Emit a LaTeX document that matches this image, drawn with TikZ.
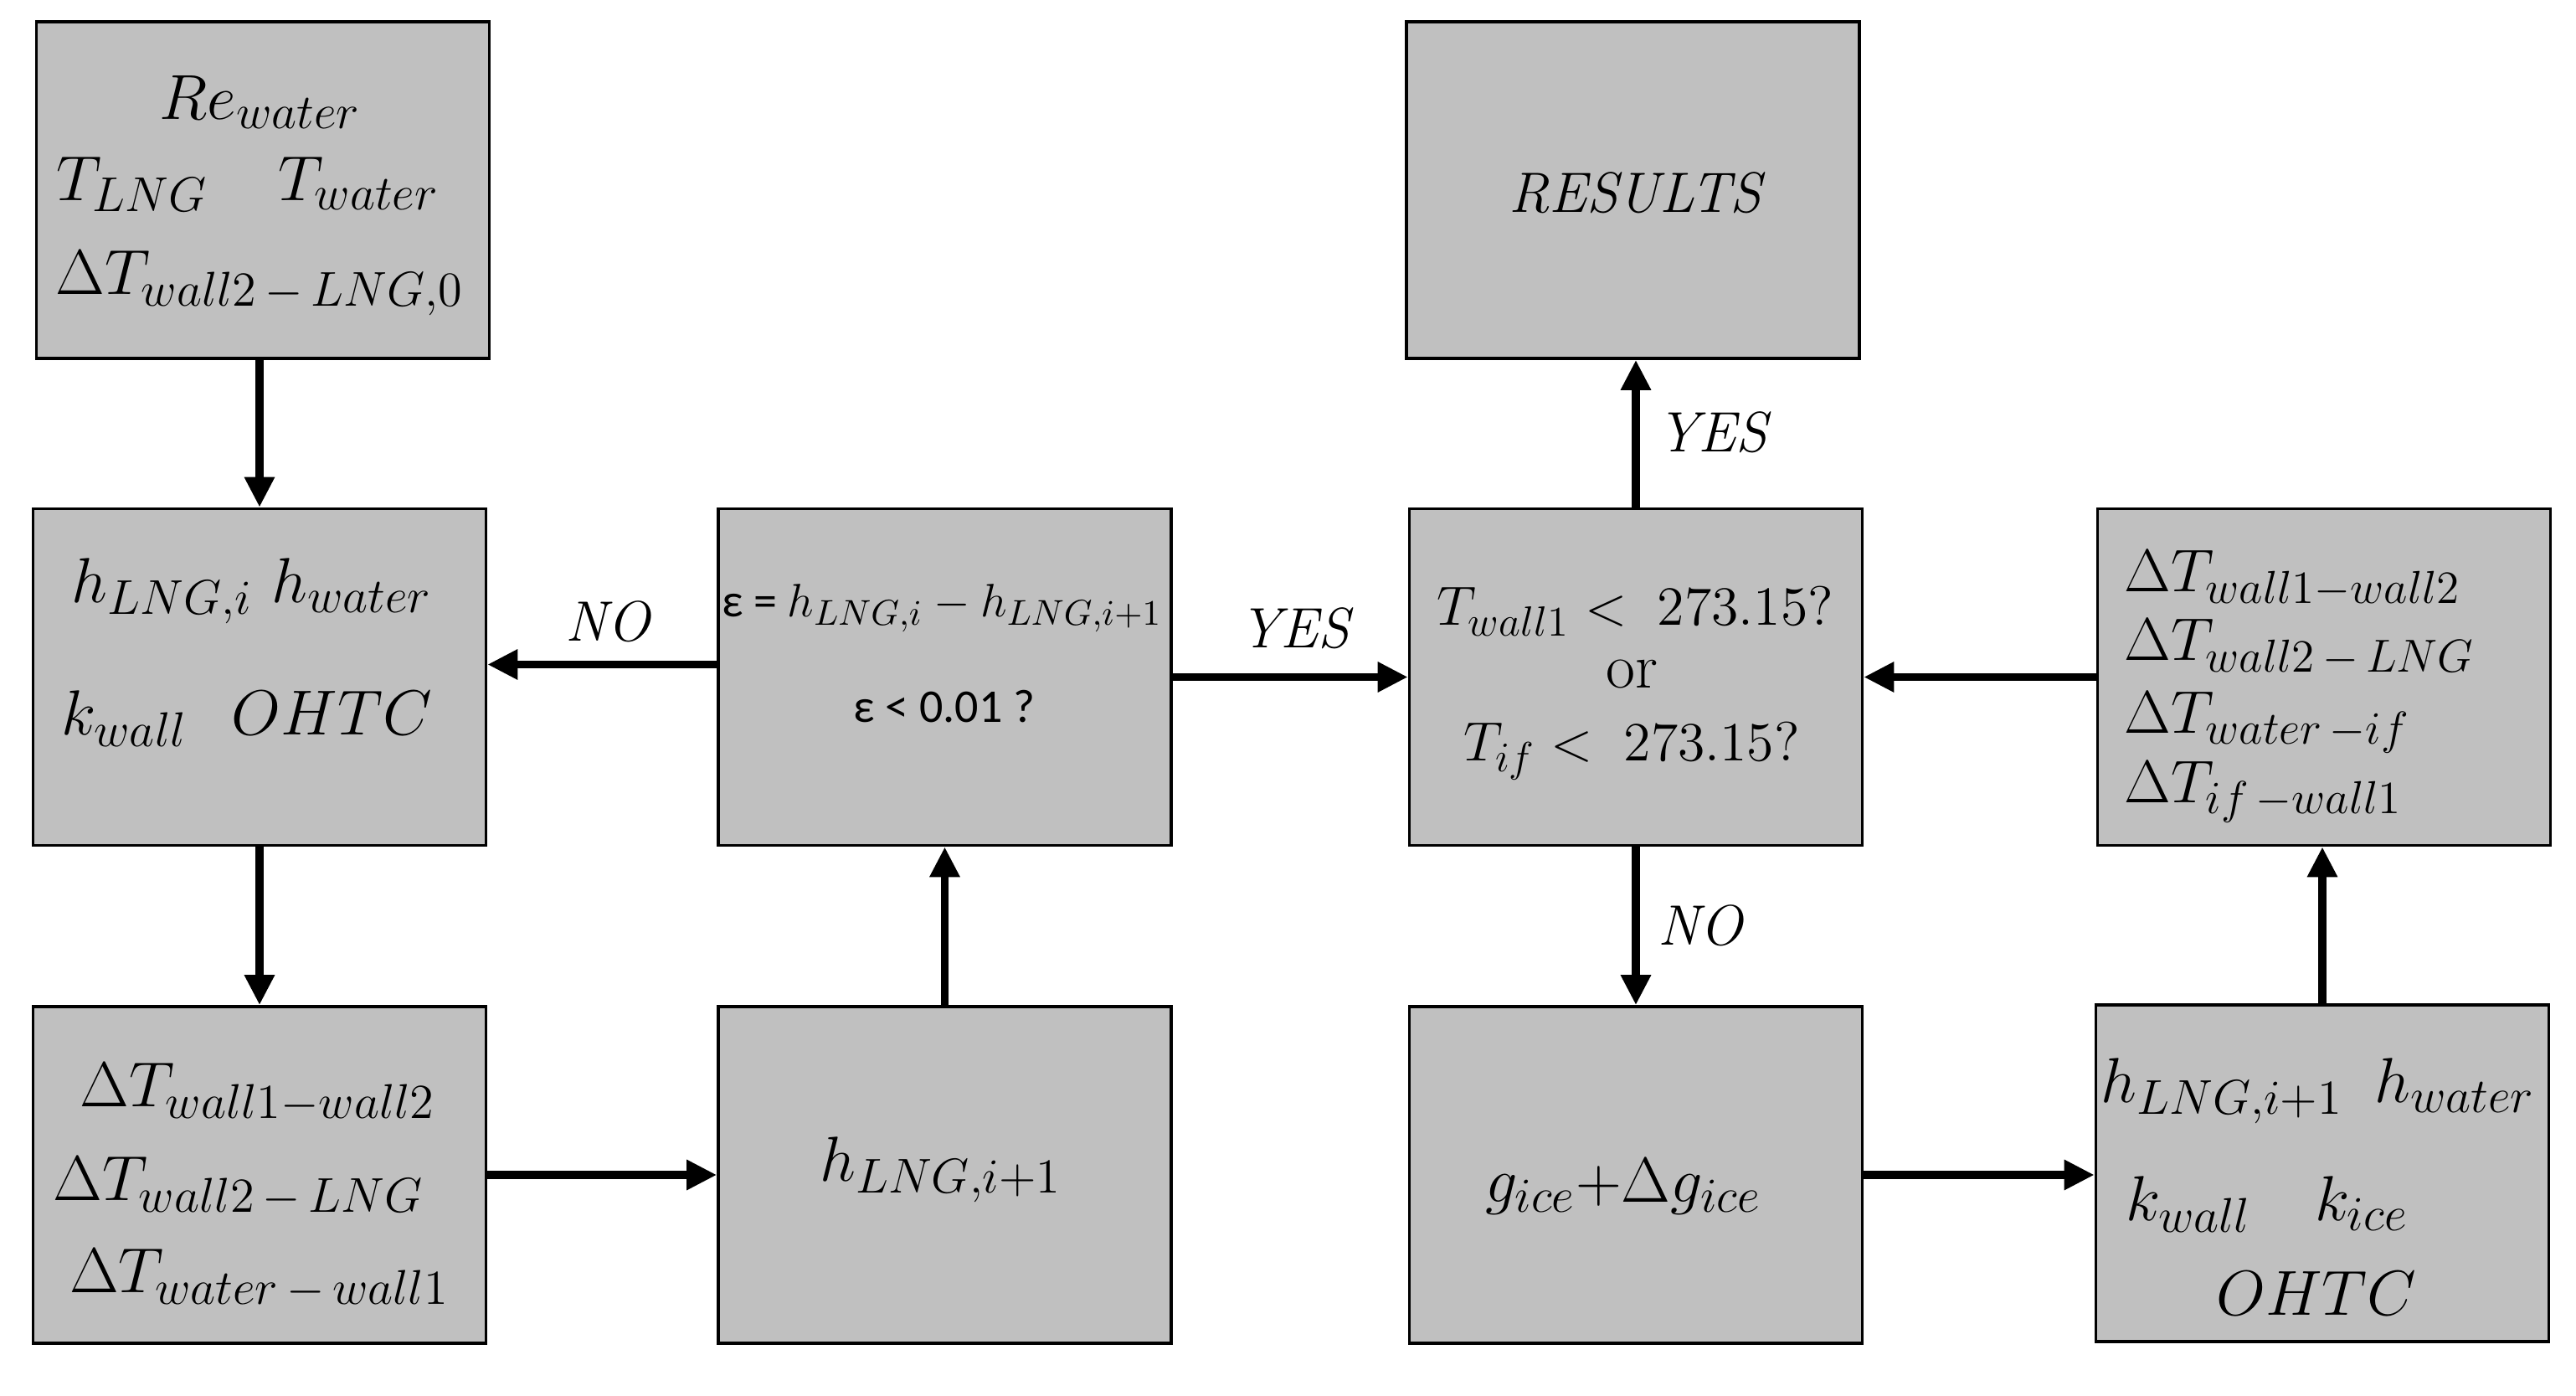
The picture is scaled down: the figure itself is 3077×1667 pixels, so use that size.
\RequirePackage{fix-cm}
\documentclass[tikz,border=0pt]{standalone}
\usepackage{fontspec}
\newfontfamily\calib{Carlito}
\usetikzlibrary{arrows.meta}
\definecolor{boxgray}{RGB}{192,192,192}
\DeclareMathSizes{19}{19}{14.6}{11}
\DeclareMathSizes{18}{18}{13.8}{10.5}
\DeclareMathSizes{16.5}{16.5}{12.6}{9.5}
\DeclareMathSizes{14}{14}{10.7}{8}
\begin{document}
\begin{tikzpicture}[x=0.25pt,y=-0.25pt,
  box/.style={draw=black, line width=0.9pt, fill=boxgray, minimum width=135.25pt, minimum height=100.5pt, inner sep=0pt},
  txt/.style={inner sep=0pt, font=\fontsize{19}{23}\selectfont},
  txtJ/.style={inner sep=0pt, anchor=west, font=\fontsize{18}{22}\selectfont},
  txtE/.style={inner sep=0pt, font=\fontsize{14}{17}\selectfont},
  txtF/.style={inner sep=0pt, font=\fontsize{16.5}{20}\selectfont},
  lbl/.style={inner sep=0pt, font=\fontsize{17}{20}\selectfont\itshape},
  arr/.style={line width=2.4pt, -{Triangle[length=9pt,width=8.5pt]}}
]
\useasboundingbox (0,0) rectangle (3077,1667);

% boxes
\node[box] (A) at (314,227) {};
\node[box] (B) at (310,808.5) {};
\node[box] (C) at (310,1403) {};
\node[box] (D) at (1128.5,1403) {};
\node[box] (E) at (1128.5,808.5) {};
\node[box] (F) at (1954,808.5) {};
\node[box] (G) at (1950.5,227) {};
\node[box] (H) at (1954,1403) {};
\node[box] (I) at (2774,1401) {};
\node[box] (J) at (2776,808.5) {};

% texts
\node[txt] (a1) at (311,122) {$Re_{water}$};
\node[txt] (a2) at (296,220) {$T_{LNG}\hspace{1.1em}T_{water}$};
\node[txt] (a3) at (310,338) {$\Delta T_{wall2\,-\,LNG,0}$};

\node[txt] (b1) at (301,706) {$h_{LNG,i}\ h_{water}$};
\node[txt] (b2) at (295,858) {$k_{wall}\hspace{0.7em}OHTC$};

\node[txt] (c1) at (308,1305) {$\Delta T_{wall1-wall2}$};
\node[txt] (c2) at (285,1417) {$\Delta T_{wall2\,-\,LNG}$};
\node[txt] (c3) at (310,1527) {$\Delta T_{water\,-\,wall1}$};

\node[txt] (d1) at (1124,1397) {$h_{LNG,i+1}$};

\node[txtE] (e1) at (1125,726) {{\calib ε = }$h_{LNG,i} - h_{LNG,i+1}$};
\node[txtE] (e2) at (1128,844) {\calib ε < 0.01 ?};

\node[txtF] (f1) at (1953,730) {$T_{wall1} <\; 273.15?$};
\node[txtF] (f2) at (1949,805) {\fontsize{19}{23}\selectfont or};
\node[txtF] (f3) at (1949,897) {$T_{if} <\; 273.15?$};

\node[lbl] (g1) at (1953,230) {RESULTS};

\node[txt] (h1) at (1939,1417) {$g_{ice}{+}\Delta g_{ice}$};

\node[txt] (i1) at (2769,1303) {$h_{LNG,i+1}\hspace{0.5em}h_{water}$};
\node[txt] (i2) at (2708,1438) {$k_{wall}\quad k_{ice}$};
\node[txt] (i3) at (2767,1545) {$OHTC$};

\node[txtJ] (j1) at (2537,691) {$\Delta T_{wall1-wall2}$};
\node[txtJ] (j2) at (2537,773) {$\Delta T_{wall2\,-\,LNG}$};
\node[txtJ] (j3) at (2537,863) {$\Delta T_{water\,-if}$};
\node[txtJ] (j4) at (2537,946) {$\Delta T_{if\,-wall1}$};

% connectors
\draw[arr] (A.south -| B.north) -- (B.north);
\draw[arr] (B.south) -- (C.north);
\draw[arr] (C.east) -- (D.west);
\draw[arr] (D.north) -- (E.south);
\draw[arr] ([yshift=3.75pt]E.west) -- ([yshift=3.75pt]B.east);
\draw[arr] (E.east) -- (F.west);
\draw[arr] (F.north) -- (F.north |- G.south);
\draw[arr] (F.south) -- (H.north);
\draw[arr] (H.east) -- (H.east -| I.west);
\draw[arr] (I.north) -- (I.north |- J.south);
\draw[arr] (J.west) -- (J.west -| F.east);

% connector labels
\node[lbl] (no1) at (726,742) {NO};
\node[lbl] (yes1) at (1546,750) {YES};
\node[lbl] (yes2) at (2045,516) {YES};
\node[lbl] (no2) at (2031,1105) {NO};
\end{tikzpicture}
\end{document}
